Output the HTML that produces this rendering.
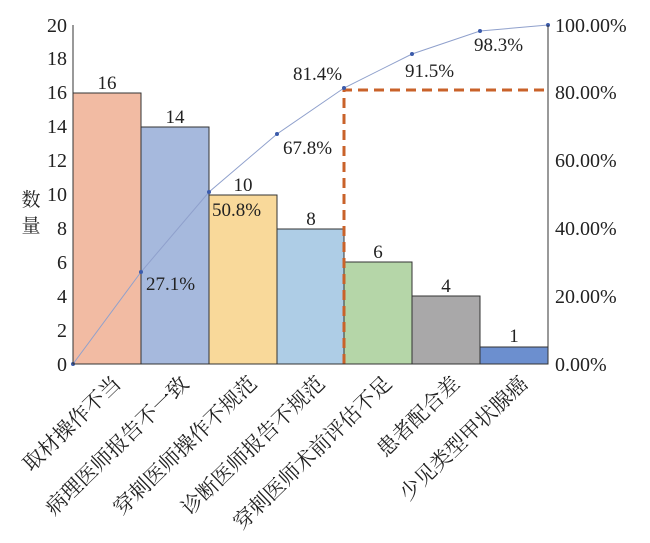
<!DOCTYPE html>
<html><head><meta charset="utf-8"><style>body{margin:0;background:#fff}</style></head><body>
<svg width="650" height="538" xmlns="http://www.w3.org/2000/svg" font-family="Liberation Serif, Noto Serif CJK SC, serif">
<rect width="650" height="538" fill="#fff"/>
<g stroke="#333" stroke-width="1">
<rect x="73" y="93" width="68" height="271" fill="#f2bba3"/>
<rect x="141" y="127" width="68" height="237" fill="#a6b9dd"/>
<rect x="209" y="195" width="68" height="169" fill="#f9d99a"/>
<rect x="277" y="229" width="67" height="135" fill="#aecde6"/>
<rect x="344" y="262" width="68" height="102" fill="#b5d6a8"/>
<rect x="412" y="296" width="68" height="68" fill="#a9a8a9"/>
<rect x="480" y="347" width="68" height="17" fill="#6c8fcf"/>
</g>
<g font-size="19" text-anchor="middle" fill="#222">
<text x="107" y="89">16</text><text x="175" y="123">14</text><text x="243" y="191">10</text>
<text x="311" y="225">8</text><text x="378" y="258">6</text><text x="446" y="292">4</text><text x="514" y="342">1</text>
</g>
<path d="M344 364V90H548" fill="none" stroke="#c9622a" stroke-width="3" stroke-dasharray="10,6"/>
<polyline points="73,364 141,272 209,192 277,134 344,88 412,54 480,31 548,25" fill="none" stroke="#8fa0cc" stroke-width="1"/>
<g fill="#3b5bab"><circle cx="73" cy="364" r="2"/><circle cx="141" cy="272" r="2"/><circle cx="209" cy="192" r="2"/><circle cx="277" cy="134" r="2"/><circle cx="344" cy="88" r="2"/><circle cx="412" cy="54" r="2"/><circle cx="480" cy="31" r="2"/><circle cx="548" cy="25" r="2"/></g>
<g font-size="19" fill="#222">
<text x="146" y="290">27.1%</text><text x="212" y="216">50.8%</text><text x="283" y="154">67.8%</text>
<text x="293" y="80">81.4%</text><text x="405" y="77">91.5%</text><text x="474" y="51">98.3%</text>
</g>
<g stroke="#333" stroke-width="1"><line x1="73" y1="25" x2="73" y2="364"/><line x1="548" y1="25" x2="548" y2="364"/><line x1="73" y1="364" x2="548" y2="364"/></g>
<g font-size="20" text-anchor="end" fill="#222">
<text x="67" y="371">0</text><text x="67" y="337">2</text><text x="67" y="303">4</text><text x="67" y="269">6</text><text x="67" y="235">8</text>
<text x="67" y="201">10</text><text x="67" y="167">12</text><text x="67" y="133">14</text><text x="67" y="99">16</text><text x="67" y="65">18</text><text x="67" y="32">20</text>
</g>
<g font-size="20" fill="#222">
<text x="555" y="371">0.00%</text><text x="555" y="303">20.00%</text><text x="555" y="235">40.00%</text><text x="555" y="167">60.00%</text><text x="555" y="99">80.00%</text><text x="555" y="32">100.00%</text>
</g>
<text x="31" y="206" font-size="19" text-anchor="middle" fill="#222">数</text>
<text x="31" y="232" font-size="19" text-anchor="middle" fill="#222">量</text>
<g font-size="21" text-anchor="end" fill="#222">
<text transform="translate(122,385) rotate(-44)">取材操作不当</text>
<text transform="translate(190,385) rotate(-44)">病理医师报告不一致</text>
<text transform="translate(258,385) rotate(-44)">穿刺医师操作不规范</text>
<text transform="translate(326,385) rotate(-44)">诊断医师报告不规范</text>
<text transform="translate(393,385) rotate(-44)">穿刺医师术前评估不足</text>
<text transform="translate(461,385) rotate(-44)">患者配合差</text>
<text transform="translate(529,385) rotate(-44)">少见类型甲状腺癌</text>
</g>
</svg>
</body></html>
